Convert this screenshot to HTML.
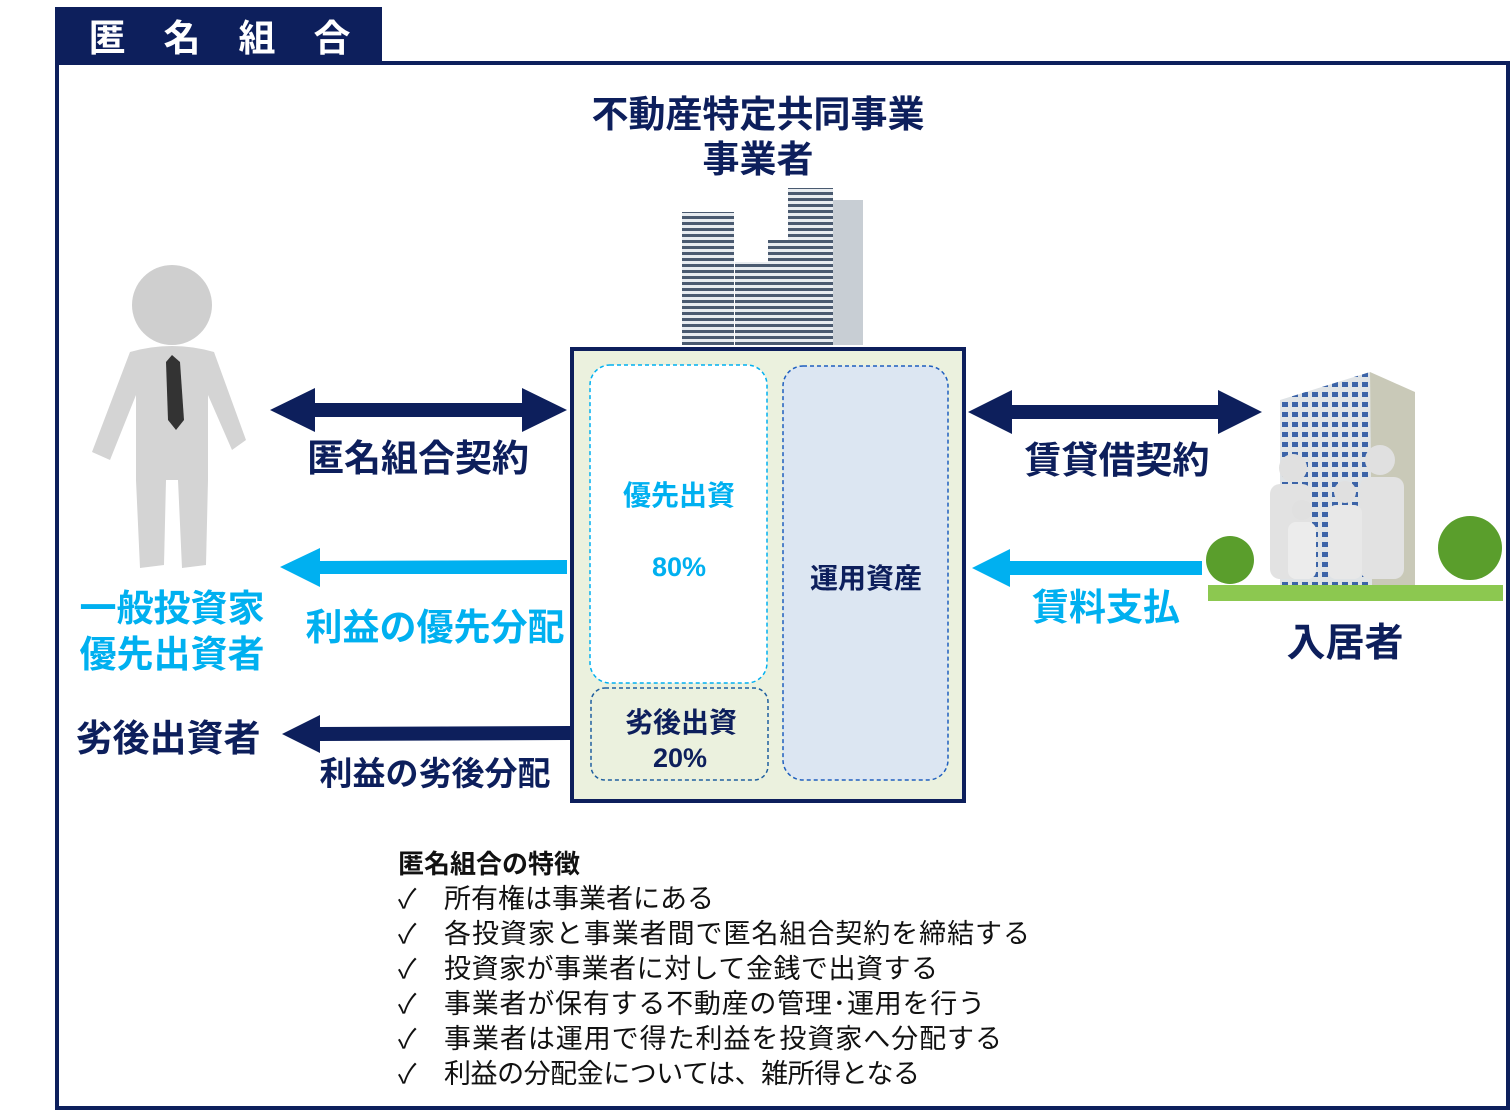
<!DOCTYPE html>
<html><head><meta charset="utf-8"><style>
body{margin:0;width:1512px;height:1112px;background:#fff;overflow:hidden;font-family:"Liberation Sans","Noto Sans CJK JP",sans-serif;}
svg text{font-family:"Liberation Sans","Noto Sans CJK JP",sans-serif;}
</style></head><body>
<svg width="1512" height="1112" viewBox="0 0 1512 1112">
<defs>
<pattern id="st" width="6" height="6" patternUnits="userSpaceOnUse"><rect width="6" height="6" fill="#e8ecf0"/><rect width="6" height="3" fill="#4a5a70"/></pattern>
<pattern id="win" width="10" height="10" patternUnits="userSpaceOnUse"><rect width="10" height="10" fill="#dfe3e6"/><rect x="2" y="2" width="6" height="5" fill="#3c64a8"/></pattern>
</defs>
<rect x="55" y="7" width="327" height="57" fill="#0d1f5c"/>
<g font-size="37" font-weight="bold" fill="#fff" text-anchor="middle">
<text x="107" y="51">匿</text><text x="182" y="51">名</text><text x="257" y="51">組</text><text x="332" y="51">合</text></g>
<rect x="57" y="63" width="1451" height="1045" fill="none" stroke="#0d1f5c" stroke-width="4"/>
<text x="758" y="127" font-size="37" font-weight="bold" fill="#0d1f5c" text-anchor="middle">不動産特定共同事業</text>
<text x="758" y="172" font-size="37" font-weight="bold" fill="#0d1f5c" text-anchor="middle">事業者</text>
<rect x="682" y="212" width="52" height="133" fill="url(#st)"/>
<rect x="735" y="262" width="35" height="83" fill="url(#st)"/>
<rect x="768" y="240" width="30" height="105" fill="url(#st)"/>
<rect x="788" y="188" width="45" height="157" fill="url(#st)"/>
<rect x="833" y="200" width="30" height="145" fill="#c8ced4"/>
<rect x="572" y="349" width="392" height="452" fill="#ebf1de" stroke="#0d1f5c" stroke-width="4"/>
<rect x="590" y="365" width="177" height="318" rx="20" fill="#fff" stroke="#00b0f0" stroke-width="1.5" stroke-dasharray="4,3"/>
<rect x="591" y="688" width="177" height="92" rx="14" fill="#ebf1de" stroke="#1f5f9f" stroke-width="1.5" stroke-dasharray="4,3"/>
<rect x="783" y="366" width="165" height="414" rx="20" fill="#dce6f2" stroke="#1f5fbf" stroke-width="1.5" stroke-dasharray="4,3"/>
<text x="679" y="505" font-size="28" font-weight="bold" fill="#00b0f0" text-anchor="middle">優先出資</text>
<text x="679" y="576" font-size="27" font-weight="bold" fill="#00b0f0" text-anchor="middle">80%</text>
<text x="681" y="732" font-size="28" font-weight="bold" fill="#0d1f5c" text-anchor="middle">劣後出資</text>
<text x="680" y="767" font-size="27" font-weight="bold" fill="#0d1f5c" text-anchor="middle">20%</text>
<text x="866" y="588" font-size="28" font-weight="bold" fill="#0d1f5c" text-anchor="middle">運用資産</text>
<polygon points="270,410 315,388 315,403 522,403 522,388 567,410 522,432 522,417 315,417 315,432" fill="#0d1f5c"/>
<polygon points="280,567 320,548 320,561 567,560 567,574 320,574 320,587" fill="#00b0f0"/>
<polygon points="282,734 320,715 320,727 570,726 570,740 320,741 320,753" fill="#0d1f5c"/>
<polygon points="968,412 1012,390 1012,405 1218,405 1218,390 1262,412 1218,434 1218,419 1012,419 1012,434" fill="#0d1f5c"/>
<polygon points="972,568 1010,549 1010,561 1202,561 1202,575 1010,575 1010,587" fill="#00b0f0"/>
<text x="418" y="471" font-size="37" font-weight="bold" fill="#0d1f5c" text-anchor="middle">匿名組合契約</text>
<text x="435" y="640" font-size="37" font-weight="bold" fill="#00b0f0" text-anchor="middle">利益の優先分配</text>
<text x="435" y="785" font-size="33" font-weight="bold" fill="#0d1f5c" text-anchor="middle">利益の劣後分配</text>
<text x="1117" y="473" font-size="37" font-weight="bold" fill="#0d1f5c" text-anchor="middle">賃貸借契約</text>
<text x="1106" y="620" font-size="37" font-weight="bold" fill="#00b0f0" text-anchor="middle">賃料支払</text>
<text x="1345" y="656" font-size="39" font-weight="bold" fill="#0d1f5c" text-anchor="middle">入居者</text>
<text x="172" y="621" font-size="37" font-weight="bold" fill="#00b0f0" text-anchor="middle">一般投資家</text>
<text x="172" y="667" font-size="37" font-weight="bold" fill="#00b0f0" text-anchor="middle">優先出資者</text>
<text x="168" y="751" font-size="37" font-weight="bold" fill="#0d1f5c" text-anchor="middle">劣後出資者</text>
<circle cx="172" cy="305" r="40" fill="#cfcfcf"/>
<path d="M130,352 Q172,340 214,352 L246,440 L232,450 L208,395 L208,480 L206,565 L182,568 L178,480 L166,480 L164,565 L140,568 L136,480 L136,395 L110,460 L92,452 Z" fill="#d4d4d4"/>
<polygon points="172,355 180,362 184,420 176,430 168,420 166,362" fill="#333"/>
<rect x="1208" y="585" width="295" height="16" fill="#8cc850"/>
<polygon points="1280,400 1370,372 1372,585 1280,585" fill="url(#win)"/>
<polygon points="1370,372 1415,392 1415,585 1372,585" fill="#c9c9b8"/>
<circle cx="1230" cy="560" r="24" fill="#5a9e2c"/>
<circle cx="1470" cy="548" r="32" fill="#5a9e2c"/>
<circle cx="1293" cy="468" r="14" fill="#e0e0e0"/><rect x="1270" y="484" width="42" height="95" rx="10" fill="#e2e2e2"/>
<circle cx="1380" cy="460" r="15" fill="#e0e0e0"/><rect x="1360" y="477" width="44" height="102" rx="10" fill="#e2e2e2"/>
<circle cx="1345" cy="492" r="11" fill="#e0e0e0"/><rect x="1328" y="505" width="34" height="74" rx="8" fill="#e8e8e8"/>
<circle cx="1302" cy="510" r="10" fill="#e0e0e0"/><rect x="1288" y="522" width="28" height="57" rx="8" fill="#ececec"/>
<g font-size="27" fill="#111">
<text x="398" y="873" font-size="26" font-weight="bold">匿名組合の特徴</text>
<text x="398" y="908">✓</text><text x="444" y="908">所有権は事業者にある</text>
<text x="398" y="943">✓</text><text x="444" y="943" textLength="586">各投資家と事業者間で匿名組合契約を締結する</text>
<text x="398" y="978">✓</text><text x="444" y="978" textLength="494">投資家が事業者に対して金銭で出資する</text>
<text x="398" y="1013">✓</text><text x="444" y="1013" textLength="541">事業者が保有する不動産の管理･運用を行う</text>
<text x="398" y="1048">✓</text><text x="444" y="1048" textLength="558">事業者は運用で得た利益を投資家へ分配する</text>
<text x="398" y="1083">✓</text><text x="444" y="1083" textLength="476">利益の分配金については、雑所得となる</text>
</g>
</svg>
</body></html>
